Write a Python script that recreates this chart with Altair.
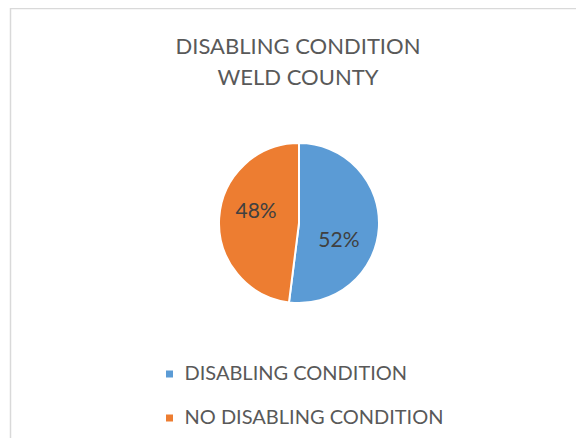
import altair as alt
import pandas as pd

categories = ["DISABLING CONDITION", "NO DISABLING CONDITION"]
values = [52, 48]
labels = ["52%", "48%"]
colors = ["#5b9bd5", "#ed7d31"]

df = pd.DataFrame({"category": categories, "value": values, "label": labels,
                   "order": [0, 1]})

FONT = "Lato"
CX, CY, R = 291, 215, 80

arc = alt.Chart(df).mark_arc(outerRadius=R, stroke="white", strokeWidth=2).encode(
    theta=alt.Theta("value:Q", stack=True),
    order=alt.Order("order:Q"),
    x=alt.value(CX), y=alt.value(CY),
    color=alt.Color("category:N",
                    scale=alt.Scale(domain=categories, range=colors),
                    legend=alt.Legend(orient="none", legendX=151.5, legendY=356,
                                      title=None, symbolType="square",
                                      symbolSize=49, symbolStrokeWidth=0,
                                      labelFont=FONT, labelFontSize=20,
                                      labelColor="#595959", labelOffset=5,
                                      labelLimit=0, rowPadding=24)),
)


def label_layer(idx, dx, dy):
    return alt.Chart(df).transform_stack(
        stack="value", groupby=[], as_=["v0", "v1"],
        sort=[alt.SortField("order", order="ascending")]
    ).transform_calculate(
        mid="(datum.v0 + datum.v1) / 2"
    ).transform_filter(
        alt.datum.order == idx
    ).mark_text(radius=45, font=FONT, fontSize=21, color="#404040",
                dx=dx, dy=dy).encode(
        theta=alt.Theta("mid:Q", scale=alt.Scale(domain=[0, 100])),
        x=alt.value(CX), y=alt.value(CY), text="label:N"
    )


txt1 = label_layer(0, -5, 15)
txt2 = label_layer(1, 2, -8)

border = pd.DataFrame({"k": [0]})
left = alt.Chart(border).mark_rule(color="#d9d9d9", strokeWidth=1.5).encode(
    x=alt.value(2.5), y=alt.value(0), y2=alt.value(430))
top = alt.Chart(border).mark_rule(color="#d9d9d9", strokeWidth=1.5).encode(
    x=alt.value(2), x2=alt.value(568), y=alt.value(0.5))

chart = alt.layer(left, top, arc, txt1, txt2).properties(
    width=568, height=430,
    autosize=alt.AutoSizeParams(type="none"),
    padding=0,
    title=alt.TitleParams(["DISABLING CONDITION", "WELD COUNTY"],
                          font=FONT, fontSize=22, fontWeight="normal",
                          color="#595959", anchor="middle", offset=0,
                          baseline="top", dy=83, dx=6, lineHeight=31),
).configure_view(stroke=None)

chart.save("out.html", embed_options={"renderer": "svg", "actions": False})
